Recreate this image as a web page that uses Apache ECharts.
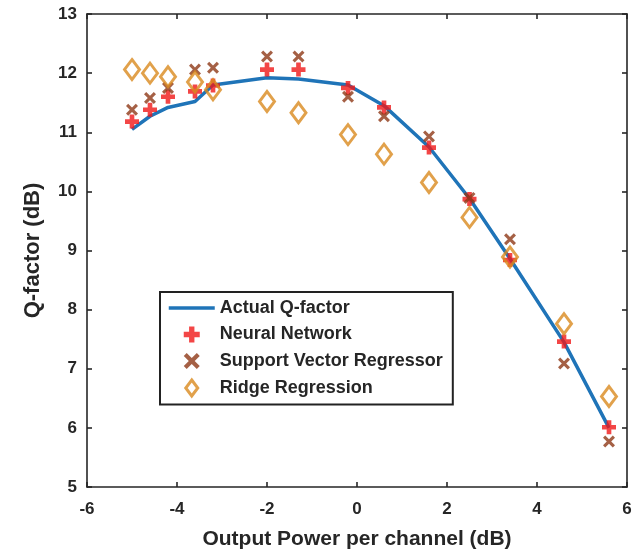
<!DOCTYPE html>
<html>
<head>
<meta charset="utf-8">
<script src="https://cdn.jsdelivr.net/npm/echarts@6/dist/echarts.min.js"></script>
<style>
html,body{margin:0;padding:0;background:#fff;}
#chart{width:640px;height:555px;}
</style>
</head>
<body>
<div id="chart"></div>
<script>
// Output power per channel (dB)
var power = [-5.0, -4.6, -4.2, -3.6, -3.2, -2.0, -1.3, -0.2, 0.6, 1.6, 2.5, 3.4, 4.6, 5.6];
// Q-factor values (dB)
var actualQ = [11.05, 11.27, 11.42, 11.52, 11.8, 11.92, 11.9, 11.8, 11.45, 10.75, 9.88, 8.86, 7.45, 6.0];
var neuralNet = [11.18, 11.38, 11.6, 11.69, 11.79, 12.06, 12.06, 11.75, 11.42, 10.74, 9.87, 8.84, 7.46, 6.01];
var svr = [11.38, 11.58, 11.75, 12.06, 12.09, 12.28, 12.28, 11.6, 11.27, 10.93, 9.89, 9.19, 7.09, 5.77];
var ridge = [12.06, 12.0, 11.94, 11.85, 11.72, 11.52, 11.33, 10.96, 10.63, 10.15, 9.56, 8.89, 7.76, 6.53];
var xTicks = [-6, -4, -2, 0, 2, 4, 6];
var yTicks = [5, 6, 7, 8, 9, 10, 11, 12, 13];

function pairs(xs, ys) { return xs.map(function (x, i) { return [x, ys[i]]; }); }

var FONT = '"Liberation Sans", Arial, sans-serif';
var AX = '#262626';
var plusPath = 'path://M4,0H8V4H12V8H8V12H4V8H0V4H4Z';
var crossPath = 'path://M2.2,0L6,3.8L9.8,0L12,2.2L8.2,6L12,9.8L9.8,12L6,8.2L2.2,12L0,9.8L3.8,6L0,2.2Z';
var diamondPath = 'path://M6,0L12,8L6,16L0,8Z';

var baseAxis = {
  type: 'value',
  axisLine: { show: true, onZero: false, lineStyle: { color: AX, width: 1.6 } },
  axisTick: { show: true, inside: true, length: 5, lineStyle: { color: AX, width: 1.6 } },
  splitLine: { show: false }
};

var chart = echarts.init(document.getElementById('chart'), null, { renderer: 'canvas' });
chart.setOption({
  animation: false,
  backgroundColor: '#ffffff',
  grid: { left: 87, right: 13, top: 14, bottom: 66, containLabel: false },
  xAxis: [
    Object.assign({}, baseAxis, {
      min: xTicks[0], max: xTicks[xTicks.length - 1], interval: 2, position: 'bottom',
      name: 'Output Power per channel (dB)', nameLocation: 'middle', nameGap: 42,
      nameTextStyle: { fontFamily: FONT, fontWeight: 'bold', fontSize: 21, color: AX },
      axisLabel: { margin: 14, fontFamily: FONT, fontWeight: 'bold', fontSize: 17, color: AX }
    }),
    Object.assign({}, baseAxis, {
      min: xTicks[0], max: xTicks[xTicks.length - 1], interval: 2, position: 'top',
      axisLabel: { show: false }
    })
  ],
  yAxis: [
    Object.assign({}, baseAxis, {
      min: yTicks[0], max: yTicks[yTicks.length - 1], interval: 1, position: 'left',
      name: 'Q-factor (dB)', nameLocation: 'middle', nameGap: 43,
      nameTextStyle: { fontFamily: FONT, fontWeight: 'bold', fontSize: 22, color: AX },
      axisLabel: { margin: 10, fontFamily: FONT, fontWeight: 'bold', fontSize: 17, color: AX }
    }),
    Object.assign({}, baseAxis, {
      min: yTicks[0], max: yTicks[yTicks.length - 1], interval: 1, position: 'right',
      axisLabel: { show: false }
    })
  ],
  legend: {
    orient: 'vertical', left: 160, top: 292,
    backgroundColor: '#ffffff', borderColor: '#222222', borderWidth: 2,
    padding: [7, 10, 7, 7], itemGap: 8.5, itemWidth: 46, itemHeight: 16,
    textStyle: { fontFamily: FONT, fontWeight: 'bold', fontSize: 18, color: AX },
    data: [
      { name: 'Actual Q-factor', itemStyle: { opacity: 0 }, lineStyle: { width: 3.5 } },
      { name: 'Neural Network' },
      { name: 'Support Vector Regressor' },
      { name: 'Ridge Regression', icon: diamondPath,
        itemStyle: { color: 'rgba(255,255,255,0)', borderColor: '#d98a1e', borderWidth: 3 } }
    ]
  },
  series: [
    {
      name: 'Actual Q-factor', type: 'line', data: pairs(power, actualQ),
      symbol: 'none', smooth: false,
      lineStyle: { color: '#1f74b8', width: 3.5 }, itemStyle: { color: '#1f74b8' }, z: 2
    },
    {
      name: 'Neural Network', type: 'scatter', data: pairs(power, neuralNet),
      symbol: plusPath, symbolSize: 14, itemStyle: { color: '#f01818' }, z: 3
    },
    {
      name: 'Support Vector Regressor', type: 'scatter', data: pairs(power, svr),
      symbol: crossPath, symbolSize: 12, itemStyle: { color: '#8e3816' }, z: 4
    },
    {
      name: 'Ridge Regression', type: 'scatter', data: pairs(power, ridge),
      symbol: diamondPath, symbolSize: [15, 20],
      itemStyle: { color: 'rgba(255,255,255,0)', borderColor: '#d98a1e', borderWidth: 3 }, z: 5
    }
  ]
});
</script>
</body>
</html>
